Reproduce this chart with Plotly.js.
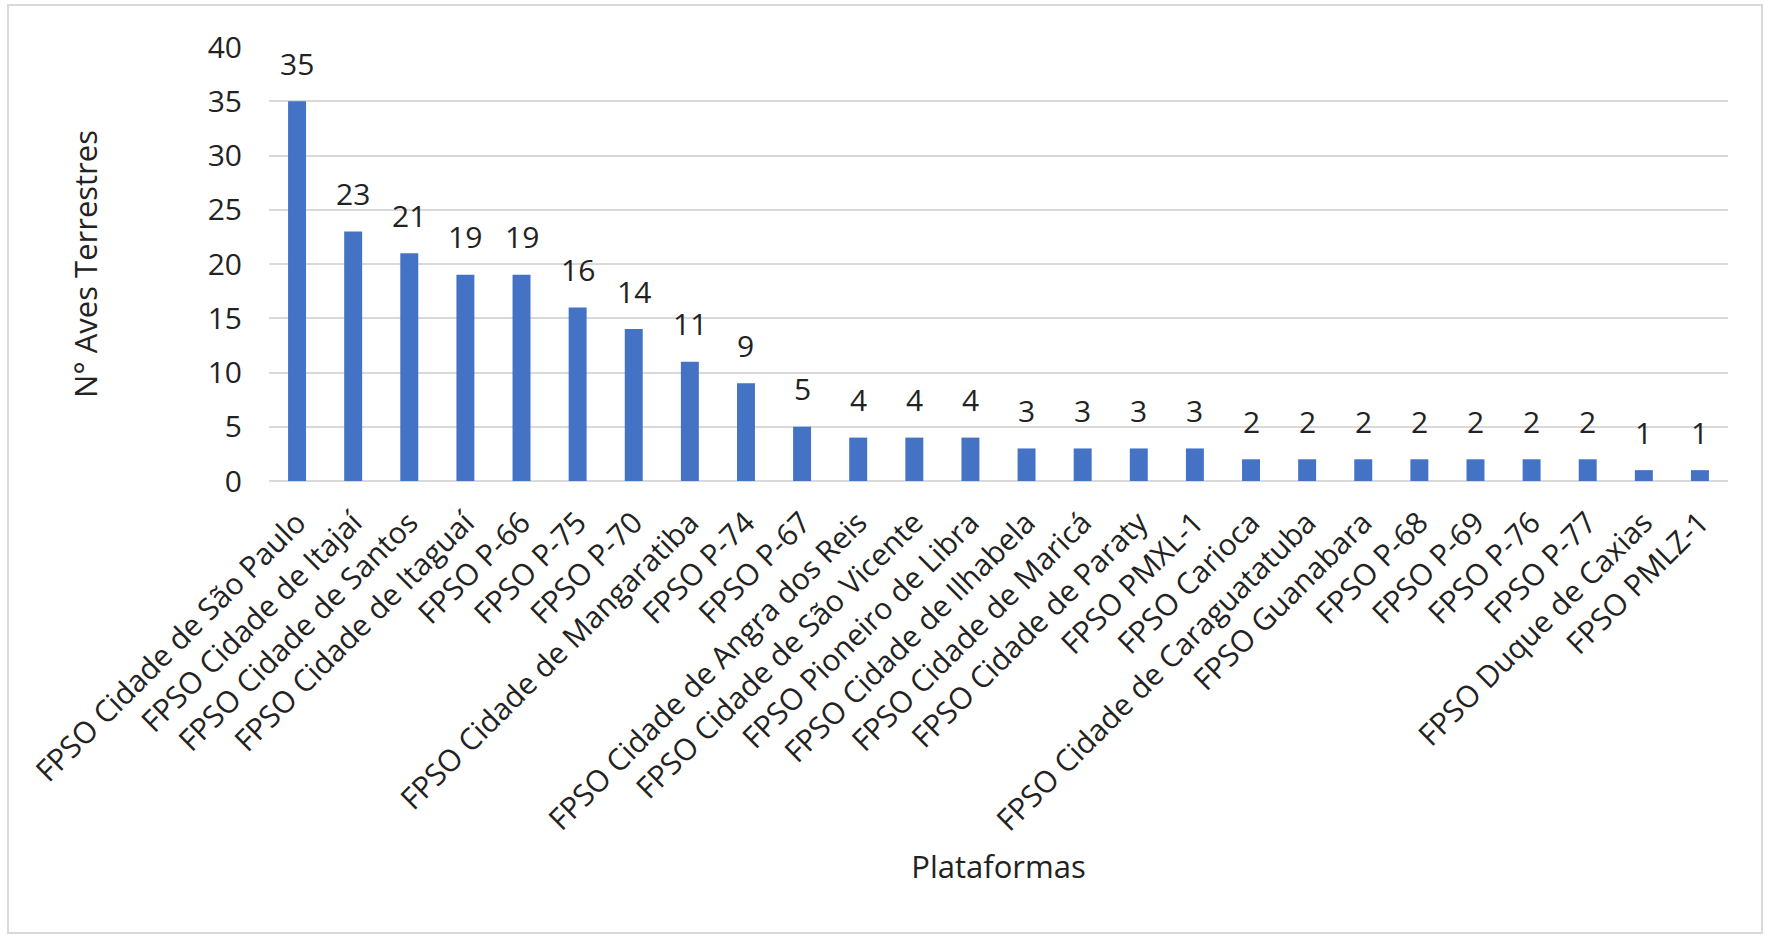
<!DOCTYPE html>
<html>
<head>
<meta charset="utf-8">
<script src="https://cdn.plot.ly/plotly-3.0.1.min.js"></script>
<style>html,body{margin:0;padding:0;background:#fff;}#chart{width:1765px;height:935px;}</style>
</head>
<body>
<div id="chart"></div>
<script>
const plataformas = [
  "FPSO Cidade de São Paulo", "FPSO Cidade de Itajaí", "FPSO Cidade de Santos",
  "FPSO Cidade de Itaguaí", "FPSO P-66", "FPSO P-75", "FPSO P-70",
  "FPSO Cidade de Mangaratiba", "FPSO P-74", "FPSO P-67",
  "FPSO Cidade de Angra dos Reis", "FPSO Cidade de São Vicente",
  "FPSO Pioneiro de Libra", "FPSO Cidade de Ilhabela", "FPSO Cidade de Maricá",
  "FPSO Cidade de Paraty", "FPSO PMXL-1", "FPSO Carioca",
  "FPSO Cidade de Caraguatatuba", "FPSO Guanabara", "FPSO P-68", "FPSO P-69",
  "FPSO P-76", "FPSO P-77", "FPSO Duque de Caxias", "FPSO PMLZ-1"
];
const avesTerrestres = [35, 23, 21, 19, 19, 16, 14, 11, 9, 5, 4, 4, 4, 3, 3, 3, 3, 2, 2, 2, 2, 2, 2, 2, 1, 1];
const yTicks = [0, 5, 10, 15, 20, 25, 30, 35, 40];

const FONT = "Open Sans, Noto Sans, sans-serif";
const TXT = "#222222";

const trace = {
  type: "bar",
  x: plataformas,
  y: avesTerrestres,
  marker: {color: "#4472C4"},
  width: 0.32,
  hoverinfo: "x+y"
};

const labels = plataformas.map((p, i) => ({
  x: p, y: avesTerrestres[i], xref: "x", yref: "y",
  text: String(avesTerrestres[i]), showarrow: false,
  yanchor: "middle", yshift: 38,
  font: {family: FONT, size: 30, color: TXT}
}));

const layout = {
  width: 1765, height: 935,
  margin: {l: 269, r: 37, t: 47, b: 454},
  paper_bgcolor: "#ffffff", plot_bgcolor: "#ffffff",
  font: {family: FONT, size: 30, color: TXT},
  showlegend: false,
  xaxis: {
    type: "category",
    tickangle: -45,
    tickfont: {family: FONT, size: 30, color: TXT},
    showgrid: false, showline: false, ticks: "",
    ticklabelstandoff: 17,
    automargin: false,
    title: {text: "Plataformas", font: {family: FONT, size: 31, color: TXT}, standoff: 18}
  },
  yaxis: {
    range: [0, 40],
    tickvals: yTicks,
    ticktext: yTicks.map(String),
    tickfont: {family: FONT, size: 30, color: TXT},
    showgrid: true, gridcolor: "#d9d9d9", gridwidth: 2,
    zeroline: true, zerolinecolor: "#d9d9d9", zerolinewidth: 2,
    showline: false, ticks: "",
    ticklabelstandoff: 26,
    automargin: false,
    title: {text: "N° Aves Terrestres", font: {family: FONT, size: 31, color: TXT}, standoff: 100}
  },
  annotations: labels,
  shapes: [{
    type: "rect", xref: "paper", yref: "paper",
    x0: (8 - 269) / 1459, x1: (1762 - 269) / 1459,
    y0: (481 - 933) / 434, y1: (481 - 5) / 434,
    line: {color: "#d9d9d9", width: 2}, fillcolor: "rgba(0,0,0,0)", layer: "below"
  }]
};

Plotly.newPlot("chart", [trace], layout, {displayModeBar: false});
</script>
</body>
</html>
